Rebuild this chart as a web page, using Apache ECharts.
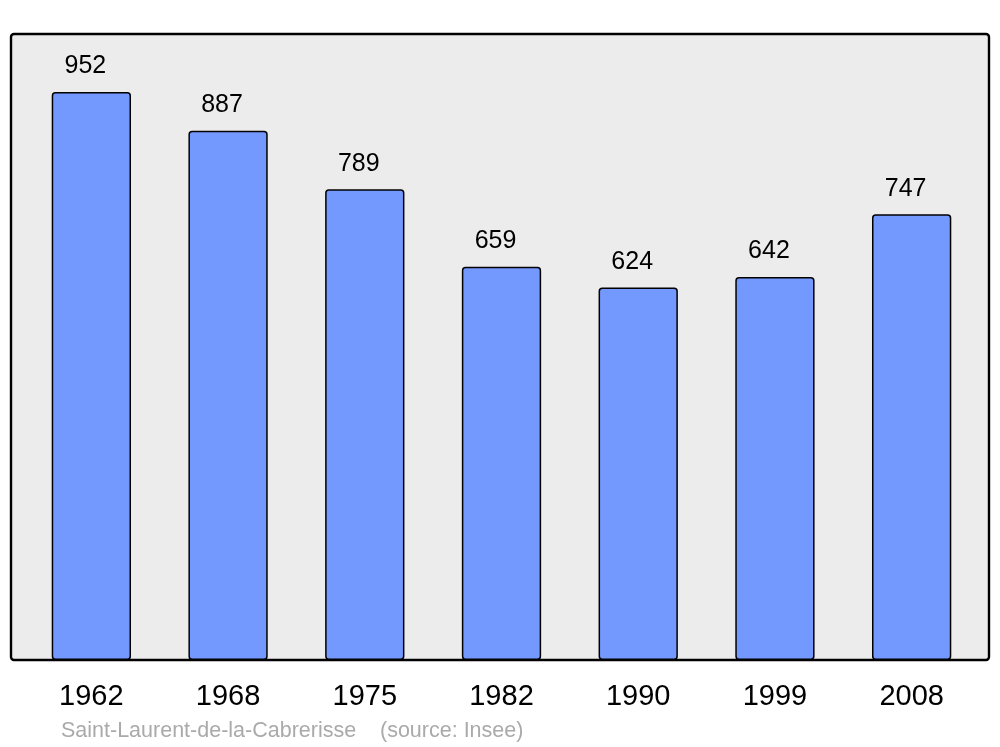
<!DOCTYPE html>
<html><head><meta charset="utf-8">
<script src="https://cdn.jsdelivr.net/npm/echarts@6/dist/echarts.min.js"></script>
<style>html,body{margin:0;padding:0;background:#fff}#c{width:1000px;height:747px}</style>
</head><body><div id="c"></div>
<script>
const categories = ['1962','1968','1975','1982','1990','1999','2008'];
const population = [952, 887, 789, 659, 624, 642, 747];
const title = 'Saint-Laurent-de-la-Cabrerisse';
const source = '(source: Insee)';

const chart = echarts.init(document.getElementById('c'), null, {renderer:'canvas'});
const FONT = '"Liberation Sans", Arial, sans-serif';
chart.setOption({
  animation: false,
  graphic: [
    {type:'rect', z:-10, shape:{x:11, y:34, width:978, height:626, r:3},
     style:{fill:'#ececec', stroke:'#000', lineWidth:2.4}},
    {type:'text', left:61, top:720, style:{text:title, fill:'#aaaaaa', font:'21.5px ' + FONT}},
    {type:'text', left:380, top:720, style:{text:source, fill:'#aaaaaa', font:'21.5px ' + FONT}}
  ],
  grid: {left:23, width:957, top:34, height:626, containLabel:false},
  xAxis: {
    type:'category', data:categories,
    axisLine:{show:false}, axisTick:{show:false},
    axisLabel:{color:'#000', fontSize:29, fontFamily:FONT, margin:22, offset:0}
  },
  yAxis: {type:'value', min:0, max:1049, show:false, splitLine:{show:false}},
  series: [{
    type:'bar', data:population, barWidth:'58%',
    itemStyle:{color:'#7399ff', borderColor:'#000', borderWidth:1.5, borderRadius:3},
    label:{show:true, position:'top', color:'#000', fontSize:25, fontFamily:FONT, offset:[-6,-8]}
  }]
});
</script></body></html>
